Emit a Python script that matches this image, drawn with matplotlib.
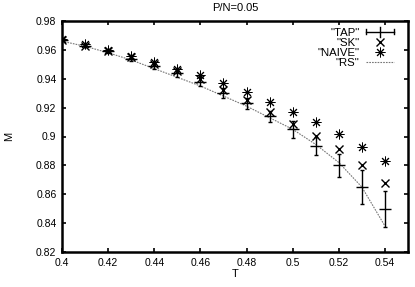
import numpy as np
import matplotlib
matplotlib.use('Agg')
import matplotlib.pyplot as plt
from matplotlib.lines import Line2D
from matplotlib.legend_handler import HandlerBase

plt.rcParams['font.family'] = ['Liberation Sans', 'DejaVu Sans']

# temperatures
T = [0.40, 0.41, 0.42, 0.43, 0.44, 0.45, 0.46, 0.47, 0.48, 0.49, 0.50, 0.51, 0.52, 0.53, 0.54]

# magnetisation
m_tap = [0.967, 0.963, 0.959, 0.954, 0.949, 0.944, 0.938, 0.930, 0.923, 0.914, 0.905, 0.8935, 0.880, 0.865, 0.850]
m_tap_err = [0.001, 0.001, 0.0015, 0.002, 0.002, 0.0025, 0.003, 0.0035, 0.004, 0.004, 0.006, 0.0065, 0.008, 0.0115, 0.0125]
m_sk = [0.967, 0.963, 0.9595, 0.955, 0.950, 0.9455, 0.940, 0.9325, 0.9255, 0.917, 0.909, 0.9005, 0.891, 0.880, 0.8675]
m_naive = [0.9675, 0.964, 0.960, 0.956, 0.9515, 0.947, 0.9425, 0.937, 0.931, 0.924, 0.917, 0.910, 0.902, 0.893, 0.883]
m_rs = [0.966, 0.9625, 0.958, 0.953, 0.947, 0.941, 0.935, 0.928, 0.921, 0.913, 0.905, 0.8945, 0.882, 0.865, 0.838]

xticks = [0.4, 0.42, 0.44, 0.46, 0.48, 0.5, 0.52, 0.54]
yticks = [0.82, 0.84, 0.86, 0.88, 0.9, 0.92, 0.94, 0.96, 0.98]


# gnuplot like errorbar key: horizontal bar with end caps and a centre tick
class ErrKeyHandler(HandlerBase):
    def create_artists(self, legend, orig_handle, xdescent, ydescent,
                       width, height, fontsize, trans):
        y = height / 2 - ydescent
        x0, x1 = -xdescent, width - xdescent
        xc = (x0 + x1) / 2
        c = 1.8
        arts = [Line2D([x0, x1], [y, y]),
                Line2D([x0, x0], [y - c, y + c]),
                Line2D([x1, x1], [y - c, y + c]),
                Line2D([xc, xc], [y - 3.5, y + 3.5])]
        for a in arts:
            a.set_color('black')
            a.set_linewidth(1.0)
            a.set_transform(trans)
        return arts


fig = plt.figure(figsize=(4.15, 2.87), dpi=100)
ax = fig.add_axes([62 / 415, 1 - 252 / 287, (408 - 62) / 415, (252 - 21) / 287])

# RS curve (dotted)
ax.plot(T, m_rs, color='#777777', lw=0.8, ls=(0, (1.5, 1)))
# TAP with error bars
ax.errorbar(T, m_tap, yerr=m_tap_err, fmt='none', ecolor='black', elinewidth=1.0,
            capsize=1.6, capthick=1.0)
ax.plot(T, m_tap, ls='none', marker='_', ms=8, mew=1.0, color='black')
# SK
ax.plot(T, m_sk, ls='none', marker='x', ms=5.8, mew=1.0, color='black')
# NAIVE
ax.plot(T, m_naive, ls='none', marker=(8, 2, 0), ms=7.0, mew=0.7, color='black')

ax.set_xlim(0.4, 0.55)
ax.set_ylim(0.82, 0.98)
ax.set_xticks(xticks)
ax.set_xticklabels([f'{v:g}' for v in xticks])
ax.set_yticks(yticks)
ax.set_yticklabels([f'{v:g}' for v in yticks])
ax.tick_params(direction='in', length=3, width=1.2, labelsize=7.5, top=True, right=True, pad=4)
for s in ax.spines.values():
    s.set_linewidth(1.8)

ax.set_title('P/N=0.05', fontsize=8, pad=7)
ax.set_xlabel('T', fontsize=8, labelpad=1)
ax.set_ylabel('M', fontsize=8, labelpad=16)

h_tap = Line2D([], [])
h_sk = Line2D([], [], ls='none', color='black', marker='x', ms=5.8, mew=1.0)
h_naive = Line2D([], [], ls='none', color='black', marker=(8, 2, 0), ms=7.0, mew=0.7)
h_rs = Line2D([], [], color='#777777', lw=0.8, ls=(0, (1.5, 1)))
leg = ax.legend([h_tap, h_sk, h_naive, h_rs],
                ['"TAP"', '"SK"', '"NAIVE"', '"RS"'],
                handler_map={h_tap: ErrKeyHandler()},
                loc='upper right', bbox_to_anchor=(0.975, 0.995), markerfirst=False,
                frameon=False, fontsize=8.2, handlelength=2.4, handletextpad=0.6,
                labelspacing=0.0, borderaxespad=0.1, numpoints=1)
for t in leg.get_texts():
    t.set_ha('right')

fig.savefig('out.png', dpi=100)
